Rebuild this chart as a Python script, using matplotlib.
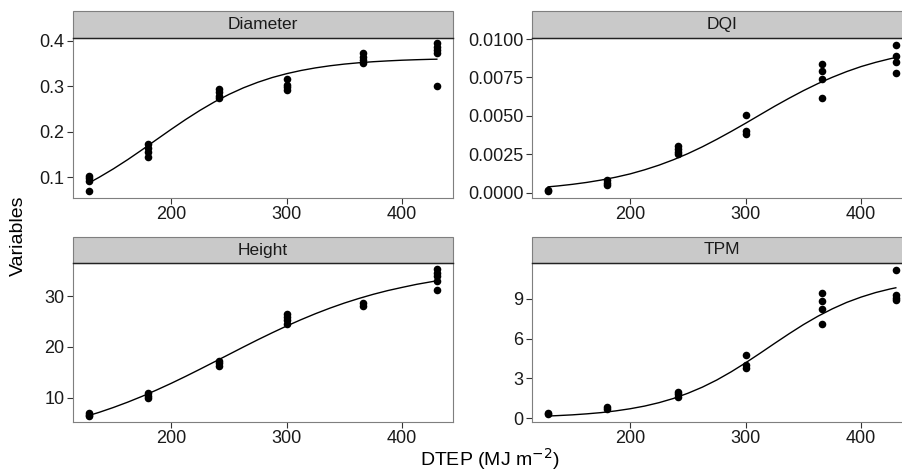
import matplotlib
matplotlib.use("Agg")
import matplotlib.pyplot as plt
from matplotlib.patches import Rectangle
from matplotlib.ticker import FixedLocator, FormatStrFormatter

plt.rcParams["font.family"] = ["Liberation Sans", "DejaVu Sans"]

# observed points (DTEP, value) per variable
diameter_x = [129] * 4 + [180] * 4 + [241] * 4 + [300] * 4 + [366] * 4 + [430] * 5
diameter_y = [0.103, 0.098, 0.092, 0.070,
              0.174, 0.165, 0.155, 0.145,
              0.293, 0.288, 0.278, 0.275,
              0.315, 0.302, 0.298, 0.291,
              0.372, 0.364, 0.357, 0.350,
              0.394, 0.386, 0.379, 0.372, 0.300]

dqi_x = [129] * 2 + [180] * 3 + [241] * 4 + [300] * 3 + [366] * 4 + [430] * 4
dqi_y = [0.0002, 0.0001,
         0.00083, 0.00065, 0.0005,
         0.00306, 0.00285, 0.00267, 0.0025,
         0.00507, 0.00398, 0.00383,
         0.0084, 0.0079, 0.0074, 0.00614,
         0.0096, 0.0089, 0.0085, 0.0078]

height_x = [129] * 3 + [180] * 3 + [241] * 3 + [300] * 4 + [366] * 2 + [430] * 5
height_y = [6.9, 6.6, 6.4,
            10.9, 10.3, 9.9,
            17.3, 16.8, 16.2,
            26.4, 25.9, 25.3, 24.5,
            28.6, 28.1,
            35.3, 34.5, 33.9, 32.9, 31.2]

tpm_x = [129] * 2 + [180] * 2 + [241] * 3 + [300] * 3 + [366] * 4 + [430] * 4
tpm_y = [0.35, 0.3,
         0.85, 0.65,
         1.98, 1.81, 1.6,
         4.75, 4.0, 3.75,
         9.45, 8.8, 8.2, 7.09,
         11.16, 9.28, 9.08, 8.9]

# fitted curves
curve_x = [129, 137.5, 150, 162.5, 175, 187.5, 200, 212.5, 225, 237.5, 250,
           262.5, 275, 287.5, 300, 312.5, 325, 337.5, 350, 362.5, 375,
           387.5, 400, 412.5, 425, 430]
diameter_fit = [0.088, 0.0998, 0.1186, 0.1390, 0.1607, 0.1830, 0.2052,
                0.2267, 0.2469, 0.2654, 0.2818, 0.2962, 0.3084, 0.3188,
                0.3273, 0.3343, 0.3400, 0.3446, 0.3483, 0.3512, 0.3535,
                0.3553, 0.3568, 0.3579, 0.3588, 0.3590]
dqi_fit = [0.000377, 0.000436, 0.00054, 0.000666, 0.00082, 0.001004,
           0.00122, 0.001486, 0.00179, 0.002142, 0.00254, 0.002984,
           0.00347, 0.003985, 0.00452, 0.005071, 0.00562, 0.006142,
           0.00664, 0.007098, 0.00751, 0.007883, 0.00821, 0.008482,
           0.008717, 0.0088]
height_fit = [6.5, 7.09, 8.06, 9.12, 10.27, 11.51, 12.81, 14.18, 15.6,
              17.05, 18.5, 19.96, 21.39, 22.77, 24.1, 25.35, 26.53, 27.62,
              28.62, 29.52, 30.34, 31.07, 31.7, 32.3, 32.8, 33.0]
tpm_fit = [0.15, 0.184, 0.24, 0.316, 0.41, 0.538, 0.70, 0.902, 1.16,
           1.477, 1.87, 2.33, 2.87, 3.49, 4.17, 4.89, 5.63, 6.356, 7.05,
           7.681, 8.24, 8.728, 9.13, 9.469, 9.739, 9.83]

panels = [
    ("Diameter", diameter_x, diameter_y, diameter_fit,
     [0.1, 0.2, 0.3, 0.4], "%.1f", (0.0546, 0.4066)),
    ("DQI", dqi_x, dqi_y, dqi_fit,
     [0.0, 0.0025, 0.005, 0.0075, 0.01], "%.4f", (-0.00035, 0.0101)),
    ("Height", height_x, height_y, height_fit,
     [10, 20, 30], "%d", (5.2, 36.5)),
    ("TPM", tpm_x, tpm_y, tpm_fit,
     [0, 3, 6, 9], "%d", (-0.3, 11.7)),
]

W, H = 902, 472
fig = plt.figure(figsize=(W / 100, H / 100), dpi=100)

# panel boxes in pixels: left, right, top, bottom
boxes = [(73, 453, 37.5, 198), (532, 912, 37.5, 198),
         (73, 453, 263, 422), (532, 912, 263, 422)]
strip_px = 26

for (name, xs, ys, fit, yticks, fmt, ylim), (l, r, t, b) in zip(panels, boxes):
    ax = fig.add_axes([l / W, 1 - b / H, (r - l) / W, (b - t) / H])
    ax.scatter(xs, ys, s=30, color="black", zorder=3, linewidths=0)
    ax.plot(curve_x, fit, color="black", lw=1.0, zorder=2)
    ax.set_xlim(115, 444)
    ax.set_ylim(*ylim)
    ax.xaxis.set_major_locator(FixedLocator([200, 300, 400]))
    ax.yaxis.set_major_locator(FixedLocator(yticks))
    ax.yaxis.set_major_formatter(FormatStrFormatter(fmt))
    for side in ax.spines.values():
        side.set_color("#7f7f7f")
        side.set_linewidth(0.8)
    ax.tick_params(direction="out", length=4, width=0.8, color="#333333",
                   labelsize=13, labelcolor="#1a1a1a", pad=2)

    # facet strip
    sh = strip_px / (b - t)
    ax.add_patch(Rectangle((0, 1), 1, sh, transform=ax.transAxes,
                           facecolor="#c9c9c9", edgecolor="#7f7f7f",
                           lw=0.8, clip_on=False, zorder=1))
    ax.plot([0, 1], [1, 1], transform=ax.transAxes, color="#222222",
            lw=1.0, clip_on=False, zorder=4)
    ax.text(0.5, 1 + sh / 2, name, transform=ax.transAxes, ha="center",
            va="center", fontsize=12.5, color="#1a1a1a")

fig.text(18 / W, 1 - 236 / H, "Variables", rotation=90, ha="center",
         va="center", fontsize=14)
fig.text(490 / W, 1 - 459 / H, "DTEP (MJ m$^{-2}$)", ha="center",
         va="center", fontsize=14)

fig.savefig("out.png", dpi=100)
